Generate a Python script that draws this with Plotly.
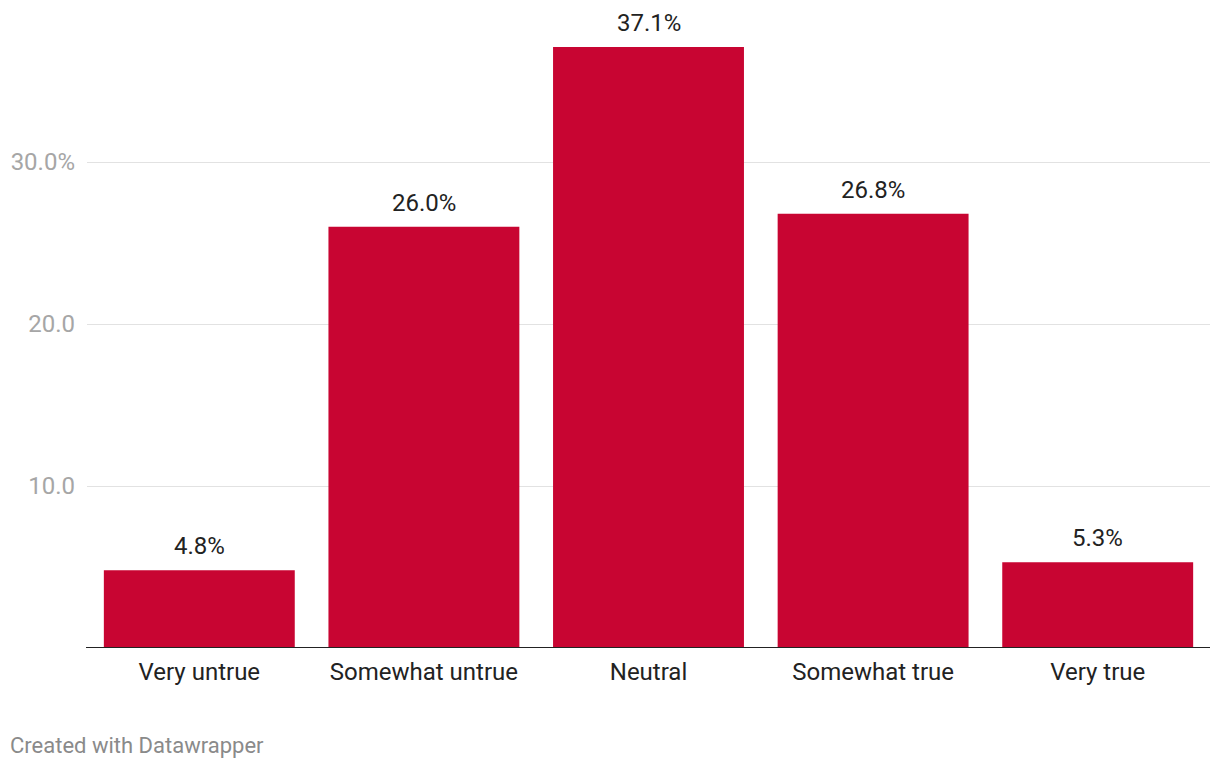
import plotly.graph_objects as go

categories = ["Very untrue", "Somewhat untrue", "Neutral", "Somewhat true", "Very true"]
values = [4.8, 26.0, 37.1, 26.8, 5.3]
value_labels = ["4.8%", "26.0%", "37.1%", "26.8%", "5.3%"]
y_tickvals = [10, 20, 30]
y_ticktext = ["10.0", "20.0", "30.0%"]

W, H = 1220, 768
ML, MR, MT, MB = 87, 10, 0, 120
PW = W - ML - MR
PH = H - MT - MB

fig = go.Figure()
fig.add_trace(go.Bar(
    x=categories, y=values,
    marker=dict(color="#c80532", line=dict(width=0)),
    width=0.85,
    hoverinfo="skip",
))

for c, v, t in zip(categories, values, value_labels):
    fig.add_annotation(x=c, y=v, text=t, showarrow=False, yanchor="bottom",
                       yshift=8, font=dict(family="Roboto", size=24, color="#222222"))

fig.add_shape(type="line", xref="paper", yref="y", x0=-1/PW, x1=1, y0=0, y1=0,
              line=dict(color="#222222", width=2))

fig.add_annotation(xref="paper", yref="paper", x=(8 - ML) / PW, y=(648 - 745) / PH,
                   xanchor="left", yanchor="middle", showarrow=False,
                   text="Created with Datawrapper",
                   font=dict(family="Roboto", size=22, color="#8a8a8a"))

fig.update_layout(
    width=W, height=H,
    margin=dict(l=ML, r=MR, t=MT, b=MB, pad=0),
    paper_bgcolor="white", plot_bgcolor="white",
    showlegend=False,
    bargap=0.15,
    font=dict(family="Roboto"),
    xaxis=dict(
        range=[-0.5, 4.5], showgrid=False, zeroline=False, showline=False,
        ticks="", tickfont=dict(family="Roboto", size=24, color="#222222"),
        ticklabelstandoff=7, fixedrange=True,
    ),
    yaxis=dict(
        range=[0, 40], tickvals=y_tickvals, ticktext=y_ticktext,
        showgrid=True, gridcolor="#e2e2e2", gridwidth=1, zeroline=False,
        showline=False, ticks="", tickfont=dict(family="Roboto", size=24, color="#a6a6a6"),
        ticklabelstandoff=11, fixedrange=True,
    ),
)

fig.write_html("out.html", config={"displayModeBar": False},
               post_script="document.body.style.margin='0';document.body.style.overflow='hidden';")
